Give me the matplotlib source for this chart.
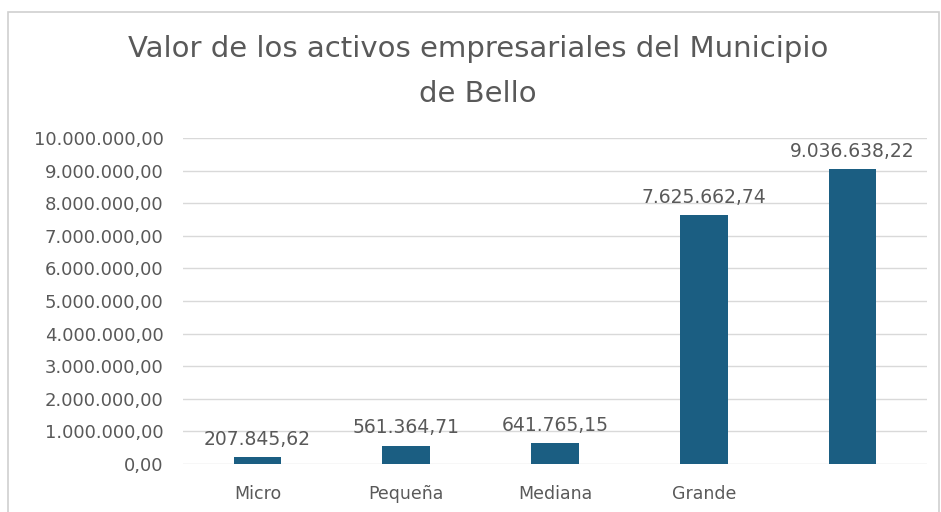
import matplotlib.pyplot as plt
from matplotlib.ticker import FuncFormatter, MultipleLocator
from matplotlib.patches import Rectangle

categories = ["Micro", "Pequeña", "Mediana", "Grande", ""]
values = [207845.62, 561364.71, 641765.15, 7625662.74, 9036638.22]

title = "Valor de los activos empresariales del Municipio\nde Bello"
bar_color = "#1b5e82"
text_color = "#595959"


def es_format(v, pos=None):
    # 1234567.8 -> 1.234.567,80
    s = f"{v:,.2f}"
    return s.replace(",", "X").replace(".", ",").replace("X", ".")


fig = plt.figure(figsize=(9.41, 5.12), dpi=100)
ax = fig.add_axes([0.1945, 0.0938, 0.7905, 0.6367])

# outer chart border
fig.patches.append(Rectangle((8 / 941, -0.01), 931 / 941, 1 - 12 / 512 + 0.01,
                             transform=fig.transFigure, fill=False,
                             edgecolor="#d0d0d0", linewidth=1.2))

x = range(len(categories))
bars = ax.bar(x, values, width=0.32, color=bar_color, zorder=3)

ax.set_xlim(-0.5, len(categories) - 0.5)
ax.set_ylim(0, 10000000)
ax.yaxis.set_major_locator(MultipleLocator(1000000))
ax.yaxis.set_major_formatter(FuncFormatter(es_format))
ax.set_xticks(list(x))
ax.set_xticklabels(categories)

ax.grid(axis="y", color="#d9d9d9", linewidth=1, zorder=0)
for s in ax.spines.values():
    s.set_visible(False)
ax.tick_params(axis="y", length=0, colors=text_color, labelsize=13, pad=14)
ax.tick_params(axis="x", length=0, colors=text_color, labelsize=12.5, pad=15)

for b, v in zip(bars, values):
    ax.annotate(es_format(v), (b.get_x() + b.get_width() / 2, v),
                xytext=(0, 6), textcoords="offset points",
                ha="center", va="bottom", fontsize=13.5, color=text_color)

fig.text(0.508, 0.86, title, ha="center", va="center", fontsize=21,
         color=text_color, linespacing=1.75)

fig.savefig("out.png", dpi=100)
